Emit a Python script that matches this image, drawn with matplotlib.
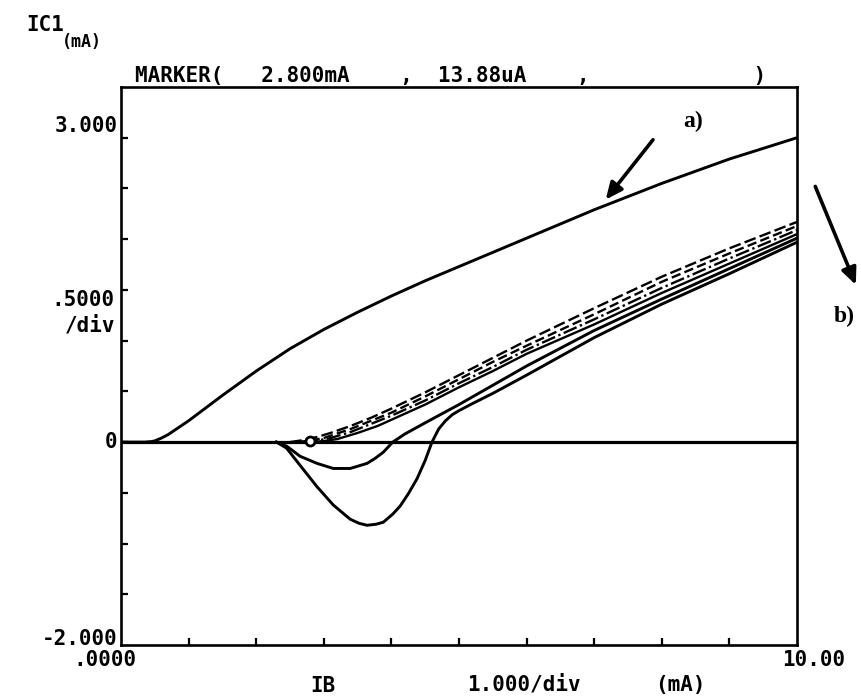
import matplotlib
matplotlib.use("Agg")
import matplotlib.pyplot as plt
from matplotlib.transforms import blended_transform_factory

# Collector current IC1 (mA) vs base current IB (mA)
ib_a = [0.0, 0.30, 0.35, 0.45, 0.50, 0.60, 0.70, 0.80, 0.90, 1.0, 1.2, 1.5, 2.0, 2.5,
        3.0, 3.5, 4.0, 4.5, 5.0, 6.0, 7.0, 8.0, 9.0, 10.0]
ic_a = [0.0, 0.0, 0.0, 0.005, 0.012, 0.04, 0.075, 0.12, 0.165, 0.21, 0.31, 0.46, 0.70, 0.92,
        1.11, 1.28, 1.44, 1.59, 1.73, 2.01, 2.29, 2.55, 2.79, 3.00]

ib_b1 = [2.5, 2.7, 2.9, 3.1, 3.4, 3.7, 4.0, 4.5, 5.0, 5.5, 6.0, 7.0, 8.0, 9.0, 10.0]
ic_b1 = [0.0, 0.02, 0.05, 0.09, 0.16, 0.24, 0.33, 0.49, 0.66, 0.83, 1.00, 1.32, 1.63, 1.91, 2.17]

ib_b2 = [2.6, 2.8, 3.0, 3.4, 3.7, 4.0, 4.5, 5.0, 5.5, 6.0, 7.0, 8.0, 9.0, 10.0]
ic_b2 = [0.0, 0.015, 0.04, 0.13, 0.21, 0.29, 0.45, 0.62, 0.79, 0.95, 1.26, 1.58, 1.86, 2.13]

ib_b3 = [2.7, 2.9, 3.1, 3.4, 3.7, 4.0, 4.5, 5.0, 5.5, 6.0, 7.0, 8.0, 9.0, 10.0]
ic_b3 = [0.0, 0.015, 0.04, 0.10, 0.18, 0.26, 0.41, 0.58, 0.74, 0.91, 1.21, 1.52, 1.81, 2.09]

ib_b4 = [2.8, 3.0, 3.2, 3.5, 3.8, 4.0, 4.5, 5.0, 5.5, 6.0, 7.0, 8.0, 9.0, 10.0]
ic_b4 = [0.0, 0.01, 0.03, 0.09, 0.16, 0.22, 0.37, 0.54, 0.70, 0.87, 1.16, 1.47, 1.76, 2.05]

ib_b5 = [2.3, 2.45, 2.65, 2.9, 3.14, 3.39, 3.64, 3.76, 3.88, 4.02, 4.2, 4.5, 5.0, 5.5,
         6.0, 7.0, 8.0, 9.0, 10.0]
ic_b5 = [0.0, -0.04, -0.14, -0.21, -0.26, -0.26, -0.21, -0.16, -0.10, 0.0, 0.08, 0.19, 0.37,
         0.56, 0.75, 1.10, 1.41, 1.71, 2.01]

ib_b6 = [2.3, 2.45, 2.65, 2.9, 3.14, 3.39, 3.52, 3.64, 3.77, 3.88, 4.02, 4.13, 4.25, 4.38,
         4.5, 4.6, 4.7, 4.8, 4.9, 5.0, 5.2, 5.5, 6.0, 7.0, 8.0, 9.0, 10.0]
ic_b6 = [0.0, -0.06, -0.23, -0.44, -0.62, -0.76, -0.80, -0.82, -0.81, -0.79, -0.71, -0.63,
         -0.51, -0.36, -0.18, 0.0, 0.13, 0.21, 0.27, 0.31, 0.38, 0.48, 0.66, 1.03, 1.36, 1.66, 1.97]

marker_ib, marker_ic = 2.8, 0.01388

x_ticks = [1, 2, 3, 4, 5, 6, 7, 8, 9]
y_ticks = [-1.5, -1.0, -0.5, 0.0, 0.5, 1.0, 1.5, 2.0, 2.5, 3.0]

W, H = 861, 700
fig = plt.figure(figsize=(W / 100, H / 100), dpi=100)


def fp(x, y):
    """Pixel position -> figure fraction."""
    return x / W, 1 - y / H


ax = fig.add_axes([121 / W, 1 - 645 / H, (797 - 121) / W, (645 - 87) / H])
ax.set_xlim(0, 10)
ax.set_ylim(-2, 3.5)
ax.set_xticks(x_ticks)
ax.set_yticks(y_ticks)
ax.tick_params(direction="in", length=5, width=1.6, labelleft=False, labelbottom=False,
               left=True, bottom=True, right=False, top=False)
for s in ax.spines.values():
    s.set_linewidth(1.9)

ax.axhline(0, color="black", lw=2.3, zorder=2)

lw = 2.1
fam_lw = 1.7
ax.plot(ib_a, ic_a, color="black", lw=lw, solid_capstyle="round")
ax.plot(ib_b1, ic_b1, color="black", lw=fam_lw, dashes=(5, 1.8))
ax.plot(ib_b2, ic_b2, color="black", lw=fam_lw, dashes=(4, 1.8))
ax.plot(ib_b3, ic_b3, color="black", lw=fam_lw, dashes=(6, 1.5, 1, 1.5))
ax.plot(ib_b4, ic_b4, color="black", lw=fam_lw)
ax.plot(ib_b5, ic_b5, color="black", lw=lw)
ax.plot(ib_b6, ic_b6, color="black", lw=lw)
ax.plot([marker_ib], [marker_ic], marker="o", ms=6.5, mfc="white", mec="black", mew=2.0)

mono = dict(family="DejaVu Sans Mono", weight="bold", color="black")
serif = dict(family="Liberation Serif", weight="bold", color="black")

# y-axis scale labels
yt = blended_transform_factory(ax.transAxes, ax.transData)
ax.text(-0.005, 3.12, "3.000", transform=yt, ha="right", va="center", fontsize=15, **mono)
ax.text(-0.005, 0.0, "0", transform=yt, ha="right", va="center", fontsize=15, **mono)
ax.text(-0.005, -1.94, "-2.000", transform=yt, ha="right", va="center", fontsize=15, **mono)
ax.text(-0.009, 1.40, ".5000", transform=yt, ha="right", va="center", fontsize=15, **mono)
ax.text(-0.009, 1.15, "/div", transform=yt, ha="right", va="center", fontsize=15, **mono)

# x-axis scale labels
xt = blended_transform_factory(ax.transData, ax.transAxes)
ax.text(-0.24, -0.026, ".0000", transform=xt, ha="center", va="center", fontsize=15, **mono)
ax.text(10.25, -0.026, "10.00", transform=xt, ha="center", va="center", fontsize=15, **mono)
fig.text(*fp(323, 686), "IB", ha="center", va="center", fontsize=15, **mono)
fig.text(*fp(524, 685), "1.000/div", ha="center", va="center", fontsize=15, **mono)
fig.text(*fp(680, 685), "(mA)", ha="center", va="center", fontsize=15, **mono)

# y-axis name
fig.text(*fp(45, 25), "IC1", ha="center", va="center", fontsize=15, **mono)
fig.text(*fp(82, 42), "(mA)", ha="center", va="center", fontsize=12, **mono)

# marker readout above the frame
fig.text(*fp(135, 86), "MARKER(   2.800mA    ,  13.88uA    ,             )",
         ha="left", va="bottom", fontsize=15, **mono)

# annotations a) and b)
ax.annotate("", xy=(7.17, 2.39), xytext=(7.87, 2.98),
            arrowprops=dict(arrowstyle="-|>,head_length=1.0,head_width=0.45",
                            color="black", lw=2.6, shrinkA=0, shrinkB=0),
            annotation_clip=False)
ax.text(8.46, 3.16, "a)", ha="center", va="center", fontsize=17, **serif)
ax.annotate("", xy=(10.87, 1.55), xytext=(10.27, 2.52),
            arrowprops=dict(arrowstyle="-|>,head_length=1.0,head_width=0.45",
                            color="black", lw=2.6, shrinkA=0, shrinkB=0),
            annotation_clip=False)
ax.text(10.70, 1.24, "b)", ha="center", va="center", fontsize=17, clip_on=False, **serif)

fig.savefig("out.png", dpi=100)
